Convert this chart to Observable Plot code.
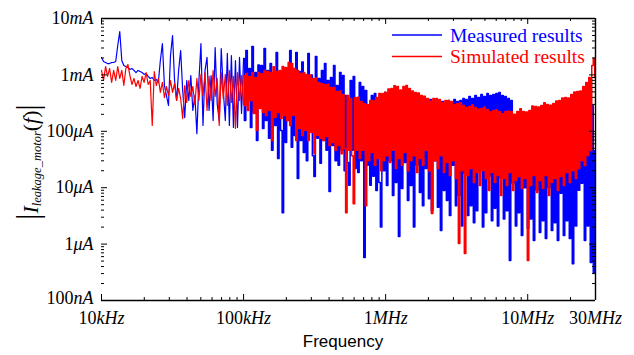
<!DOCTYPE html>
<html><head><meta charset="utf-8">
<script src="https://cdn.jsdelivr.net/npm/d3@7"></script>
<script src="https://cdn.jsdelivr.net/npm/@observablehq/plot@0.6"></script>
<style>html,body{margin:0;padding:0;background:#fff}</style>
</head><body><div id="chart"></div>
<script>
// Frequency bands (Hz) covered by each block of readings; readings are in µA
const bandLow = [1e4, 1e5];
const bandMid = [1e5, 1e6];
const bandHigh = [1e6, 3e7];

const measuredLow = [2040,1730,1660,1590,1590,1660,1660,1730,3320,5880,
 1800,1470,1410,1350,1250,1300,1200,1100,1200,1150,
 1100,1020,1060,940,865,900,796,830,735,1800,
 3600,649,431,287,2210,5000,796,352,1200,2710,
 529,175,796,352,975,234,431,91,796,3600,
 127,1200,2040,234,975,155,3060,310,155,2940,
 529,155,2400,127,2210,117,1800,117,2040,207,
 1960];
const measuredMid = [1960,155,2710,352,1300,117,3190,215,1100,69,
 1500,287,1470,112,2940,155,1200,75,1600,46,
 975,127,2500,33,1000,103,3.6,1300,63,1100,
 155,2710,52,1300,84,2500,14.6,1150,69,1700,
 42,975,30,2400,103,1000,37,15.8,2120,75,
 865,27,1200,69,1590,46,796,8.6,900,56,
 1470,30,649,25,1100,46,975,20,431,28,
 11,796,46,940,22,352,18.6,735,30,623,
 0.58,529,25,287,11,431,16,470,8.9,234,
 12.4,2.0,431,20,490];
const measuredHigh = [431,10.9,382,30,414,7.3,352,12.4,397,1.36,
 366,9.7,414,28,352,5.9,382,10.9,338,2.0,
 366,25,324,8.2,382,4.8,352,22,311,6.4,
 366,3.9,324,30,352,4.5,311,1.74,338,8.9,
 299,5.9,352,3.2,324,25,366,4.8,338,7.3,
 352,2.1,382,18,366,3.2,414,4.8,382,2.4,
 431,3.9,397,20,449,2.0,414,3.6,468,16,
 431,2.6,449,4.3,468,2.1,488,15,431,2.8,
 414,3.9,382,0.51,352,12,169,2.1,155,3.6,
 127,1.42,169,10,143,1.9,155,2.8,127,1.16,
 155,9,169,1.6,143,2.6,155,1.26,169,10,
 143,1.74,155,2.4,169,1.16,183,8,191,1.42,
 215,2.6,215,1.26,234,0.45,254,2.1,287,9,
 324,12,352,1.16,352,2.1,352,0.47,287,0.31,
 45.7];

const simulatedLow = [1200,796,1410,940,1300,735,1200,796,1410,865,
 1200,649,1300,1530,975,676,865,623,796,575,
 940,735,1100,676,796,127,1150,649,865,490,
 735,397,623,431,796,490,705,352,575,381,
 168,649,324,796,414,623,298,865,352,1020,
 431,1100,234,940,352,1200,414,865,127,1100,
 381,1020,287,1200,324,940,112,1100,352,975,
 298];
const simulatedMid = [975,287,1060,234,940,352,1100,207,900,103,
 1100,253,1050,215,1200,191,1150,234,1100,69,
 1400,175,1150,215,1200,168,1410,191,1350,155,
 1660,127,1600,191,1300,69,1200,112,1060,84,
 1100,103,1020,69,1000,95,865,40,880,84,
 735,75,700,69,676,81,680,56,600,63,
 600,46,508,56,520,40,449,49.5,3.6,431,
 46,380,37,5.2,397,46,400,33,337,46,
 310,4.8,300,30,352,42,350,25,397,33,
 470,20,470,30,490];
const simulatedHigh = [488,37,560,28,574,46,640,22,623,33,
 540,25,623,42,650,20,574,30,520,37,
 488,18.6,480,33,431,25,420,46,382,20,
 340,3.5,382,30,380,22,366,37,320,18.6,
 352,28,350,16.5,338,30,300,14.6,311,1.02,
 320,20,287,0.68,265,16.5,275,22,295,12.4,
 264,18.6,245,10.9,254,20,270,14.6,244,8.9,
 220,18.6,234,12.4,240,16.5,224,7.3,205,14.6,
 224,10.9,230,18.6,224,8.9,200,13.4,224,15.8,
 250,9.7,224,14.6,220,0.51,234,10.9,280,16.5,
 275,8.2,270,13.4,287,9.7,320,16.5,299,7.3,
 290,12.4,311,14.6,345,8.9,352,15.8,390,10.9,
 397,18.6,390,12.4,449,20,500,14.6,508,21.9,
 520,30.4,623,24.8,733,37.2,899,45.7,1468,1954,
 899];

const xTickValues = [1e4, 1e5, 1e6, 1e7, 3e7];
const xTickLabels = ["10kHz", "100kHz", "1MHz", "10MHz", "30MHz"];
const yTickValues = [0.1, 1, 10, 100, 1000, 10000];
const yTickLabels = ["100nA", "1μA", "10μA", "100μA", "1mA", "10mA"];
const seriesNames = ["Measured results", "Simulated results"];
const seriesColors = ["#0000ff", "#ff0000"];

// place readings of a block at evenly spaced (log) sample positions across its band
function block(band, values) {
  const [f0, f1] = band, n = values.length;
  return values.map((v, i) => ({f: f0 * Math.pow(f1 / f0, i / (n - 1)), v}));
}
const measuredLowPts = block(bandLow, measuredLow);
const measuredDense = [...block(bandMid, measuredMid), ...block(bandHigh, measuredHigh)];
const simulatedLowPts = block(bandLow, simulatedLow);
const simulatedDense = [...block(bandMid, simulatedMid), ...block(bandHigh, simulatedHigh)];

const W = 634, H = 355, mL = 101, mR = 39, mT = 18, mB = 55;
const pw = W - mL - mR, ph = H - mT - mB;
const decX = [1e4, 1e5, 1e6, 1e7];
const minorX = decX.flatMap(d => [2,3,4,5,6,7,8,9].map(k => k * d)).filter(v => v < 3e7);
const decY = [0.1, 1, 10, 100, 1000];
const minorY = decY.flatMap(d => [2,3,4,5,6,7,8,9].map(k => k * d));

const plot = Plot.plot({
  width: W, height: H,
  marginLeft: mL, marginRight: mR, marginTop: mT, marginBottom: mB,
  x: {type: "log", domain: [1e4, 3e7]},
  y: {type: "log", domain: [0.1, 1e4]},
  style: {fontFamily: "'Liberation Serif', 'Times New Roman', serif", fontSize: "18px", background: "#fff", color: "#000"},
  marks: [
    Plot.line(measuredLowPts, {x: "f", y: "v", stroke: seriesColors[0], strokeWidth: 1.2, clip: true}),
    Plot.line(measuredDense, {x: "f", y: "v", stroke: seriesColors[0], strokeWidth: 1.5, curve: "step", clip: true}),
    Plot.line(simulatedLowPts, {x: "f", y: "v", stroke: seriesColors[1], strokeWidth: 1.2, clip: true}),
    Plot.line(simulatedDense, {x: "f", y: "v", stroke: seriesColors[1], strokeWidth: 1.5, curve: "step", clip: true}),
    Plot.tickX(decX, {x: d => d, insetTop: ph - 6, stroke: "#000"}),
    Plot.tickX(minorX, {x: d => d, insetTop: ph - 3, stroke: "#000"}),
    Plot.tickX(decX, {x: d => d, insetBottom: ph - 6, stroke: "#000"}),
    Plot.tickX(minorX, {x: d => d, insetBottom: ph - 3, stroke: "#000"}),
    Plot.tickY(decY, {y: d => d, insetRight: pw - 6, stroke: "#000"}),
    Plot.tickY(minorY, {y: d => d, insetRight: pw - 3, stroke: "#000"}),
    Plot.tickY(decY, {y: d => d, insetLeft: pw - 6, stroke: "#000"}),
    Plot.tickY(minorY, {y: d => d, insetLeft: pw - 3, stroke: "#000"}),
    Plot.ruleY([1e4], {stroke: "#000", strokeWidth: 1.4}),
    Plot.ruleY([0.1], {stroke: "#000", strokeWidth: 1.4}),
    Plot.ruleX([3e7], {stroke: "#000", strokeWidth: 1.4}),
    Plot.axisX({ticks: xTickValues, tickFormat: d => xTickLabels[xTickValues.indexOf(d)], tickSize: 0, tickPadding: 11, label: null}),
    Plot.axisY({ticks: yTickValues, tickFormat: d => yTickLabels[yTickValues.indexOf(d)], tickSize: 0, tickPadding: 8, label: null})
  ]
});
document.getElementById("chart").appendChild(plot);

const svg = d3.select(plot);
// number upright, unit italic
svg.selectAll('g[aria-label="x-axis tick label"] text, g[aria-label="y-axis tick label"] text').each(function() {
  const s = this.textContent;
  const m = s.match(/^([\d.]+)(.*)$/);
  if (!m) return;
  this.textContent = "";
  const t = d3.select(this);
  t.append("tspan").text(m[1]);
  t.append("tspan").attr("font-style", "italic").text(m[2]);
  if (s === yTickLabels[0]) {
    const tr = t.attr("transform") || "";
    t.attr("transform", tr + " translate(0,-2.5)");
  }
});

// y axis title |I_leakage_motor(f)|
const yl = svg.append("text")
  .attr("transform", "translate(38,162) rotate(-90)")
  .attr("text-anchor", "middle")
  .attr("font-family", "'Liberation Serif', serif")
  .attr("fill", "#000");
yl.append("tspan").attr("font-size", 31).text("|");
yl.append("tspan").attr("font-size", 22).attr("font-style", "italic").text("I");
yl.append("tspan").attr("font-size", 12.5).attr("font-style", "italic").attr("dy", 3).text("leakage_motor");
yl.append("tspan").attr("font-size", 22).attr("dy", -3).text("(");
yl.append("tspan").attr("font-size", 22).attr("font-style", "italic").text("f");
yl.append("tspan").attr("font-size", 22).text(")");
yl.append("tspan").attr("font-size", 31).text("|");

// x axis title
svg.append("text").attr("x", 343).attr("y", 347).attr("text-anchor", "middle")
  .attr("font-family", "'Liberation Sans', Arial, sans-serif").attr("font-size", 17).attr("fill", "#000")
  .text("Frequency");

// legend
const lg = svg.append("g").attr("text-anchor", "start");
seriesNames.forEach((name, i) => {
  const y = 35 + i * 21.5;
  lg.append("line").attr("x1", 392).attr("x2", 442).attr("y1", y).attr("y2", y)
    .attr("stroke", seriesColors[i]).attr("stroke-width", 1.6);
  lg.append("text").attr("x", 450).attr("y", y + 6.5).attr("text-anchor", "start")
    .attr("font-family", "'Liberation Serif', serif").attr("font-size", 19.5)
    .attr("fill", seriesColors[i]).text(name);
});
</script>
</body></html>
